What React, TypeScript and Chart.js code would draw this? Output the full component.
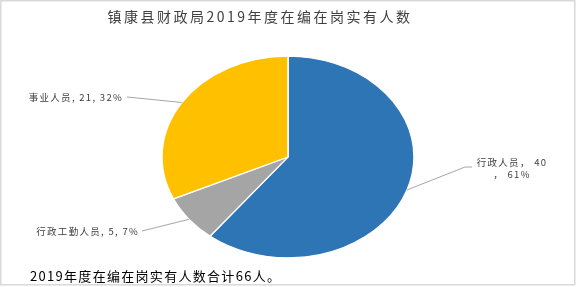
import { useEffect, useRef } from 'react';
import { Chart, registerables } from 'chart.js';

Chart.register(...registerables);

const titleText = '镇康县财政局2019年度在编在岗实有人数';
const footerText = '2019年度在编在岗实有人数合计66人。';
const categories = ['行政人员', '行政工勤人员', '事业人员'];
const values = [40, 5, 21];
const percentLabels = ['61%', '7%', '32%'];
const colors = ['#2E75B6', '#A5A5A5', '#FFC000'];

const W = 576;
const H = 287;
const ELLIPSE_Y = 0.8;
const FONT = '"Noto Sans CJK SC", "Noto Sans", sans-serif';

type LabelLayout = {
  x: number;
  y: number;
  align: CanvasTextAlign;
  lineStart: [number, number];
  elbow?: [number, number];
  twoLine?: boolean;
};

const labelLayouts: LabelLayout[] = [
  { x: 512, y: 162, align: 'center', lineStart: [472, 167], elbow: [465, 167], twoLine: true },
  { x: 139, y: 231, align: 'right', lineStart: [142, 231] },
  { x: 123, y: 97, align: 'right', lineStart: [127, 97] },
];

const ellipsePlugin = {
  id: 'ellipse',
  beforeDatasetsDraw(chart: any) {
    const arc = chart.getDatasetMeta(0).data[0];
    if (!arc) return;
    const { x, y } = arc;
    const ctx = chart.ctx;
    ctx.save();
    ctx.translate(x, y);
    ctx.scale(1, ELLIPSE_Y);
    ctx.translate(-x, -y);
  },
  afterDatasetsDraw(chart: any) {
    chart.ctx.restore();
  },
};

const decorPlugin = {
  id: 'decor',
  beforeDraw(chart: any) {
    const ctx = chart.ctx as CanvasRenderingContext2D;
    ctx.save();
    ctx.fillStyle = '#FFFFFF';
    ctx.fillRect(0, 0, W, H);
    ctx.restore();
  },
  afterDraw(chart: any) {
    const ctx = chart.ctx as CanvasRenderingContext2D;
    const meta = chart.getDatasetMeta(0);
    ctx.save();
    // outer border
    ctx.strokeStyle = '#D9D9D9';
    ctx.lineWidth = 1.5;
    ctx.strokeRect(0.75, 0.75, 574, 284);

    // title
    ctx.fillStyle = '#404040';
    ctx.font = `14px ${FONT}`;
    (ctx as any).letterSpacing = '2.5px';
    ctx.textAlign = 'center';
    ctx.textBaseline = 'middle';
    ctx.fillText(titleText, 260, 17);

    // leader lines and labels
    meta.data.forEach((arc: any, i: number) => {
      const lay = labelLayouts[i];
      const mid = (arc.startAngle + arc.endAngle) / 2;
      const px = arc.x + arc.outerRadius * Math.cos(mid);
      const py = arc.y + arc.outerRadius * ELLIPSE_Y * Math.sin(mid);
      ctx.strokeStyle = '#A6A6A6';
      ctx.lineWidth = 1;
      ctx.beginPath();
      ctx.moveTo(lay.lineStart[0], lay.lineStart[1]);
      if (lay.elbow) ctx.lineTo(lay.elbow[0], lay.elbow[1]);
      ctx.lineTo(px, py);
      ctx.stroke();

      ctx.fillStyle = '#404040';
      ctx.font = `9.5px ${FONT}`;
      (ctx as any).letterSpacing = '1.3px';
      ctx.textAlign = lay.align;
      ctx.textBaseline = 'middle';
      if (lay.twoLine) {
        ctx.fillText(`${categories[i]}， ${values[i]}`, lay.x, lay.y);
        ctx.fillText(`， ${percentLabels[i]}`, lay.x, lay.y + 12);
      } else {
        ctx.fillText(`${categories[i]}, ${values[i]}, ${percentLabels[i]}`, lay.x, lay.y);
      }
    });

    // footer
    ctx.fillStyle = '#000000';
    ctx.font = `13px ${FONT}`;
    (ctx as any).letterSpacing = '1.3px';
    ctx.textAlign = 'left';
    ctx.textBaseline = 'middle';
    ctx.fillText(footerText, 30, 276);
    ctx.restore();
  },
};

export default function App() {
  const ref = useRef<HTMLCanvasElement | null>(null);
  useEffect(() => {
    document.body.style.margin = '0';
    if (!ref.current) return;
    const chart = new Chart(ref.current, {
      type: 'pie',
      data: {
        labels: categories,
        datasets: [
          {
            data: values,
            backgroundColor: colors,
            borderColor: '#FFFFFF',
            borderWidth: 1.5,
          },
        ],
      },
      options: {
        responsive: false,
        animation: false,
        events: [],
        radius: 126,
        layout: { padding: { top: 27, bottom: 0, left: 0, right: 0 } },
        plugins: {
          legend: { display: false },
          title: { display: false },
          tooltip: { enabled: false },
        },
      } as any,
      plugins: [ellipsePlugin, decorPlugin],
    });
    return () => chart.destroy();
  }, []);
  return (
    <div style={{ width: W, height: H }}>
      <canvas ref={ref} width={W} height={H} style={{ display: 'block', width: W, height: H }} />
    </div>
  );
}
